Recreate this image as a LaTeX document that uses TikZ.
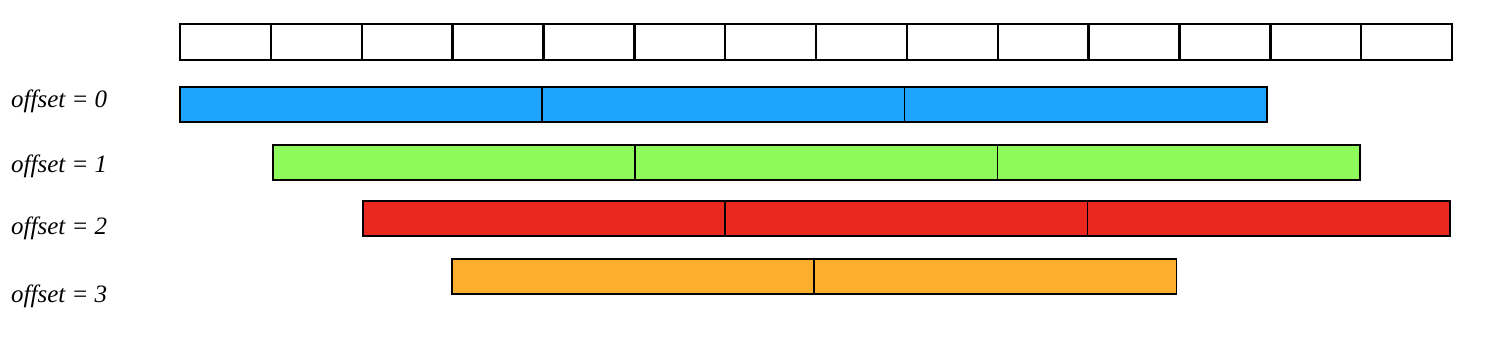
\documentclass[tikz,border=0pt]{standalone}
\usepackage{fontspec}
\setmainfont{Liberation Serif}
\usetikzlibrary{positioning}
\definecolor{BarBlue}{RGB}{30,164,253}
\definecolor{BarGreen}{RGB}{142,249,90}
\definecolor{BarRed}{RGB}{234,40,32}
\definecolor{BarOrange}{RGB}{252,174,44}
\tikzset{
  cell/.style={draw,line width=2.4pt,minimum width=90.86pt,minimum height=36pt,
               inner sep=0pt,outer sep=0pt},
  seg/.style={draw,line width=1.7pt,minimum width=362.3pt,minimum height=35pt,
              inner sep=0pt,outer sep=0pt},
  lbl/.style={anchor=west,font=\fontsize{25}{29}\selectfont\itshape,inner sep=0pt},
}

\begin{document}
\begin{tikzpicture}[x=1pt,y=-1pt]
\useasboundingbox (0,0) rectangle (1504,346);
% top row of cells
\foreach \i in {0,...,13}
  \node[cell] (c\i) at ({225.43+90.86*\i},42) {};

% offset = 0
\node[lbl] (l0) at (11,101) {offset = 0};
\node[seg,fill=BarBlue] (b0) at (361.15,104.5) {};
\node[seg,fill=BarBlue,right=0pt of b0] (b1) {};
\node[seg,fill=BarBlue,right=0pt of b1] (b2) {};

% offset = 1
\node[lbl] (l1) at (11,166) {offset = 1};
\node[seg,fill=BarGreen] (g0) at (454.15,162.5) {};
\node[seg,fill=BarGreen,right=0pt of g0] (g1) {};
\node[seg,fill=BarGreen,right=0pt of g1] (g2) {};

% offset = 2
\node[lbl] (l2) at (11,228) {offset = 2};
\node[seg,fill=BarRed] (r0) at (544.15,218.5) {};
\node[seg,fill=BarRed,right=0pt of r0] (r1) {};
\node[seg,fill=BarRed,right=0pt of r1] (r2) {};

% offset = 3
\node[lbl] (l3) at (11,296) {offset = 3};
\node[seg,fill=BarOrange] (o0) at (633.15,276.5) {};
\node[seg,fill=BarOrange,right=0pt of o0] (o1) {};
\end{tikzpicture}
\end{document}
